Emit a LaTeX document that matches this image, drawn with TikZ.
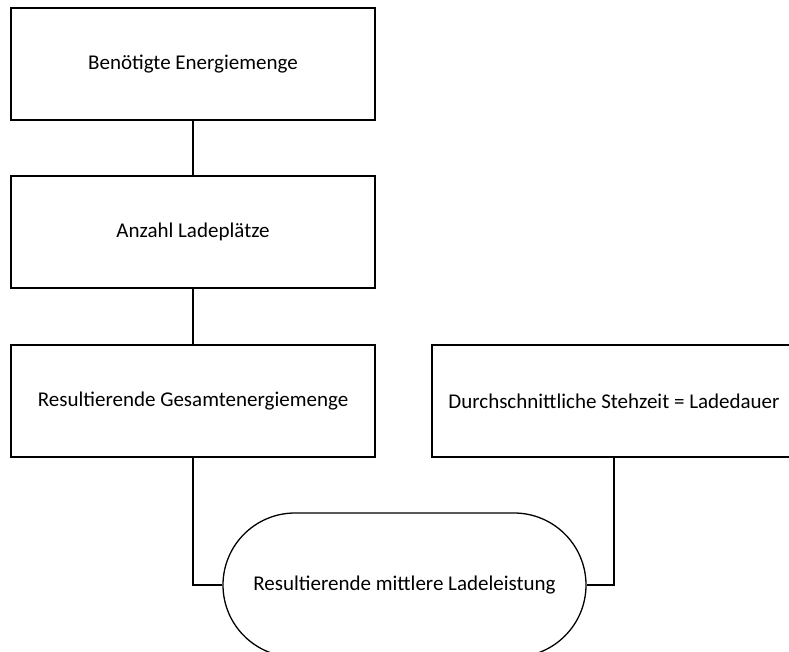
\documentclass[tikz,border=0pt]{standalone}
\usepackage{fontspec}
\setmainfont{Carlito}
\usetikzlibrary{shapes.misc}
\tikzset{
  stepbox/.style={draw, line width=1.6pt, minimum width=364pt, minimum height=112pt, inner sep=0pt, font=\fontsize{21}{24}\selectfont},
  resultbox/.style={draw, rounded rectangle, line width=1.3pt, minimum width=363pt, minimum height=144pt, inner sep=0pt, font=\fontsize{21}{24}\selectfont},
  link/.style={line width=1.3pt}
}
\begin{document}
\begin{tikzpicture}[x=1pt,y=-1pt]
 	\clip (0,0) rectangle (789,651);
 	\useasboundingbox (0,0) rectangle (789,651);
 	% Kette links
 	\node[stepbox] (energie) at (193,64) {Benötigte Energiemenge};
 	\node[stepbox] (plaetze) at (193,232) {Anzahl Ladeplätze};
 	\node[stepbox] (gesamt) at (193,401) {Resultierende Gesamtenergiemenge};
 	\node[stepbox] (stehzeit) at (614,401) {Durchschnittliche Stehzeit = Ladedauer};
 	% Ergebnis
 	\node[resultbox] (leistung) at (404.5,585) {Resultierende mittlere Ladeleistung};
 	\draw[link] (energie.south) -- (plaetze.north);
 	\draw[link] (plaetze.south) -- (gesamt.north);
 	\draw[link] (gesamt.south) |- (leistung.west);
 	\draw[link] (stehzeit.south) |- (leistung.east);
\end{tikzpicture}
\end{document}
